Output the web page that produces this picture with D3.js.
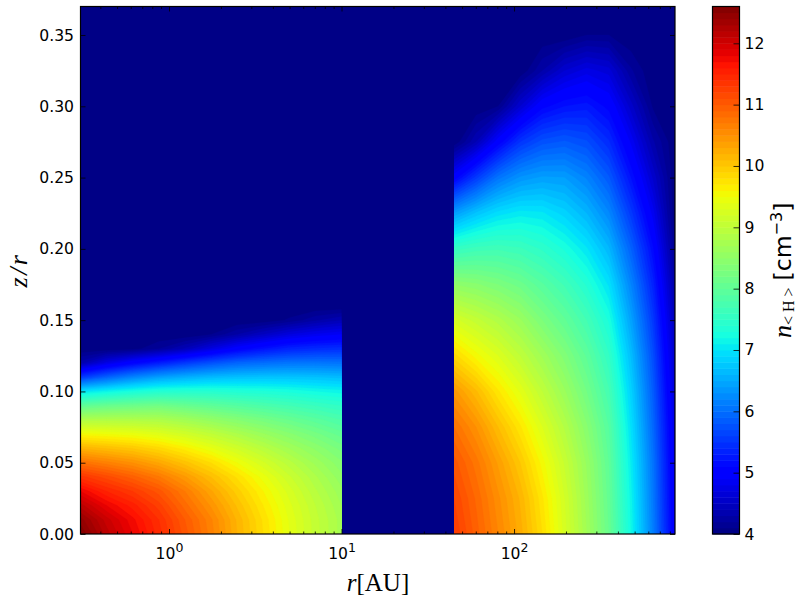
<!DOCTYPE html>
<html><head><meta charset="utf-8">
<script src="https://cdn.jsdelivr.net/npm/d3@7"></script>
<style>html,body{margin:0;background:#fff}svg{display:block}text{fill:#000}</style>
</head><body><div id="c"></div>
<script>
// log10(r/AU) of the grid columns and z/r of the grid rows
const innerLogR=[-0.513,-0.362,-0.21,-0.059,0.092,0.244,0.395,0.546,0.698,0.849,1.0];
const innerZ=[0,.01,.02,.03,.04,.05,.06,.07,.08,.09,.10,.11,.12,.13,.14,.15,.16];
const innerDensity=[
[12.6,12.15,11.8,11.45,11.05,10.65,10.2,9.8,9.4,9.05,8.75],
[12.45,12.05,11.73,11.4,11.0,10.62,10.18,9.78,9.38,9.04,8.75],
[12.15,11.8,11.55,11.25,10.85,10.48,10.08,9.7,9.33,9.0,8.7],
[11.8,11.5,11.3,11.05,10.7,10.32,9.95,9.6,9.25,8.92,8.63],
[11.35,11.15,10.95,10.72,10.42,10.1,9.78,9.45,9.12,8.82,8.53],
[10.8,10.65,10.5,10.3,10.05,9.8,9.5,9.22,8.94,8.67,8.42],
[10.2,10.1,10.0,9.85,9.65,9.42,9.18,8.94,8.7,8.48,8.26],
[9.55,9.5,9.45,9.35,9.2,9.02,8.82,8.62,8.43,8.24,8.05],
[8.85,8.85,8.85,8.82,8.7,8.55,8.4,8.25,8.1,7.95,7.8],
[8.0,8.1,8.15,8.2,8.1,8.0,7.9,7.8,7.7,7.6,7.5],
[7.0,7.15,7.28,7.38,7.4,7.4,7.35,7.32,7.27,7.2,7.15],
[5.55,5.9,6.2,6.42,6.55,6.65,6.7,6.72,6.72,6.7,6.65],
[4.35,4.75,5.05,5.3,5.55,5.75,5.92,6.0,6.06,6.07,6.05],
[4,4,4.05,4.2,4.42,4.72,5.0,5.2,5.35,5.42,5.45],
[4,4,4,4,4,4.1,4.3,4.5,4.7,4.82,4.9],
[4,4,4,4,4,4,4,4.02,4.12,4.28,4.4],
[4,4,4,4,4,4,4,4,4,4,4]];
const outerLogR=[1.652,1.78,1.908,2.036,2.164,2.293,2.421,2.549,2.677,2.805,2.933];
const outerZ=[0,.025,.05,.075,.10,.125,.15,.175,.20,.225,.25,.275,.30,.325,.35,.375];
const outerDensity=[
[11.3,10.95,10.6,10.25,9.8,9.25,8.7,8.1,7.2,6.15,4.9],
[11.2,10.88,10.53,10.18,9.72,9.2,8.65,8.05,7.15,6.1,4.85],
[11.05,10.75,10.38,10.0,9.55,9.08,8.58,8.0,7.08,6.05,4.8],
[10.8,10.5,10.1,9.72,9.3,8.88,8.42,7.9,6.98,5.95,4.75],
[10.45,10.12,9.72,9.38,9.0,8.62,8.2,7.72,6.85,5.85,4.65],
[9.85,9.55,9.3,9.0,8.68,8.35,7.98,7.52,6.68,5.72,4.55],
[9.25,9.05,8.85,8.62,8.3,8.02,7.7,7.28,6.45,5.55,4.42],
[8.5,8.42,8.3,8.15,7.92,7.68,7.38,6.98,6.2,5.35,4.28],
[7.55,7.65,7.68,7.62,7.48,7.28,7.02,6.62,5.9,5.12,4.12],
[6.4,6.72,6.95,7.05,7.02,6.85,6.6,6.22,5.55,4.85,4],
[5.0,5.55,6.05,6.32,6.42,6.4,6.18,5.82,5.2,4.58,4],
[4,4.4,5.0,5.5,5.75,5.82,5.72,5.42,4.88,4.32,4],
[4,4,4.1,4.6,5.05,5.2,5.25,5.05,4.55,4.08,4],
[4,4,4,4,4.3,4.6,4.75,4.65,4.22,4,4],
[4,4,4,4,4,4,4.1,4.1,4,4,4],
[4,4,4,4,4,4,4,4,4,4,4]];
const xTickValues=[1,10,100];
const xTickExponents=["0","1","2"];
const yTickValues=[0,.05,.10,.15,.20,.25,.30,.35];
const cbarTickValues=[4,5,6,7,8,9,10,11,12];
const densityMin=4, densityMax=12.6, densityStep=0.1;

const W=800,H=600,L=80.5,R=675,T=6.5,B=534,CL=712.5,CR=739.5;
const svg=d3.select("#c").append("svg").attr("width",W).attr("height",H);
const x=d3.scaleLog().domain([10**-0.513,10**2.933]).range([L,R]);
const y=d3.scaleLinear().domain([0,.37]).range([B,T]);
const cy=d3.scaleLinear().domain([densityMin,densityMax]).range([B,T]);

const ch=(d,r)=>d3.scaleLinear().domain(d).range(r).clamp(true);
const jr=ch([0,.35,.66,.89,1],[0,0,1,1,.5]),jg=ch([0,.125,.375,.64,.91,1],[0,0,1,1,0,0]),jb=ch([0,.11,.34,.65,1],[.5,1,1,0,0]);
const jet=t=>d3.rgb(255*jr(t),255*jg(t),255*jb(t)).formatHex();
const bandColor=l=>jet((l+densityStep/2-densityMin)/(densityMax-densityMin));
const levels=d3.range(0,Math.round((densityMax-densityMin)/densityStep)).map(i=>densityMin+i*densityStep);

svg.append("rect").attr("x",L).attr("y",T).attr("width",R-L).attr("height",B-T).attr("fill",bandColor(4));

function drawDisk(id,logR,zs,rows){
  const n=logR.length,m=zs.length;
  const X=d3.scaleLinear().domain(logR.map((_,i)=>i+.5)).range(logR.map(v=>x(10**v)));
  const Y=d3.scaleLinear().domain(zs.map((_,i)=>i+.5)).range(zs.map(v=>y(v)));
  const x0=X(.5),x1=X(n-.5),y0=Y(m-.5),y1=Y(.5);
  svg.append("clipPath").attr("id",id).append("rect").attr("x",x0).attr("y",y0).attr("width",x1-x0).attr("height",y1-y0);
  const path=d3.geoPath(d3.geoTransform({point(a,b){this.stream.point(X(a),Y(b));}}));
  const cs=d3.contours().size([n,m]).smooth(true).thresholds(levels.slice(1))(rows.flat());
  svg.append("g").attr("clip-path",`url(#${id})`).selectAll("path").data(cs).join("path")
    .attr("d",path).attr("fill",d=>bandColor(d.value)).attr("stroke",d=>bandColor(d.value)).attr("stroke-width",.3);
}
drawDisk("in",innerLogR,innerZ,innerDensity);
drawDisk("out",outerLogR,outerZ,outerDensity);

const F="'DejaVu Sans',sans-serif",FS=15.6,S="'Liberation Serif','DejaVu Serif',serif";
function style(g){g.selectAll("line").attr("stroke","#000").attr("stroke-width",.8);g.select(".domain").remove();
  g.selectAll("text").attr("font-family",F).attr("font-size",FS);}
const gb=svg.append("g").attr("transform",`translate(0,${B})`).call(d3.axisBottom(x).tickValues(xTickValues).tickSize(-5).tickSizeOuter(0).tickPadding(12).tickFormat(""));
style(gb);
gb.selectAll(".tick text").each(function(d,i){const t=d3.select(this).attr("y",25).attr("dy",null);
  t.append("tspan").text("10");t.append("tspan").attr("dy",-7).attr("font-size",12.5).text(xTickExponents[i]);});
const minorX=[];[.1,1,10,100].forEach(p=>d3.range(2,10).forEach(k=>{const v=p*k;if(v>x.domain()[0]&&v<x.domain()[1])minorX.push(v);}));
const gbm=svg.append("g").attr("transform",`translate(0,${B})`).call(d3.axisBottom(x).tickValues(minorX).tickSize(-2.5).tickFormat(""));style(gbm);
const gtm=svg.append("g").attr("transform",`translate(0,${T})`).call(d3.axisTop(x).tickValues(minorX).tickSize(-2.5).tickFormat(""));style(gtm);
const gt=svg.append("g").attr("transform",`translate(0,${T})`).call(d3.axisTop(x).tickValues(xTickValues).tickSize(-5).tickFormat(""));style(gt);
const gl=svg.append("g").attr("transform",`translate(${L},0)`).call(d3.axisLeft(y).tickValues(yTickValues).tickSize(-5).tickPadding(6.5).tickFormat(d3.format(".2f")));style(gl);
const gr=svg.append("g").attr("transform",`translate(${R},0)`).call(d3.axisRight(y).tickValues(yTickValues).tickSize(-5).tickFormat(""));style(gr);
svg.append("rect").attr("x",L).attr("y",T).attr("width",R-L).attr("height",B-T).attr("fill","none").attr("stroke","#000").attr("stroke-width",1.2);

// colour bar
svg.append("g").selectAll("rect").data(levels).join("rect")
  .attr("x",CL).attr("width",CR-CL).attr("y",d=>cy(d+densityStep)).attr("height",d=>cy(d)-cy(d+densityStep)+.5).attr("fill",bandColor);
const gc=svg.append("g").attr("transform",`translate(${CR},0)`).call(d3.axisRight(cy).tickValues(cbarTickValues).tickSize(-6).tickPadding(5).tickFormat(d3.format("d")));style(gc);
svg.append("rect").attr("x",CL).attr("y",T).attr("width",CR-CL).attr("height",B-T).attr("fill","none").attr("stroke","#000").attr("stroke-width",1.2);

// axis titles
const xl=svg.append("text").attr("x",378).attr("y",591).attr("text-anchor","middle").attr("font-family",S).attr("font-size",25);
xl.append("tspan").attr("font-style","italic").text("r");xl.append("tspan").text("[AU]");
svg.append("text").attr("transform","translate(27,270) rotate(-90)").attr("text-anchor","middle").attr("font-family",S).attr("font-size",26).attr("letter-spacing",2.5).attr("font-style","italic").text("z/r");
const cl=svg.append("text").attr("transform","translate(791,338) rotate(-90)").attr("text-anchor","start").attr("font-family",S).attr("font-size",26);
cl.append("tspan").attr("font-style","italic").text("n");
cl.append("tspan").attr("dy",3).attr("font-size",16).attr("letter-spacing",4).text("<H>");
cl.append("tspan").attr("dy",-3).attr("dx",3).attr("font-family",F).attr("font-size",23.5).text("[cm");
cl.append("tspan").attr("dy",-9).attr("font-family",F).attr("font-size",16).text("−3");
cl.append("tspan").attr("dy",9).attr("font-family",F).attr("font-size",23.5).text("]");
</script></body></html>
